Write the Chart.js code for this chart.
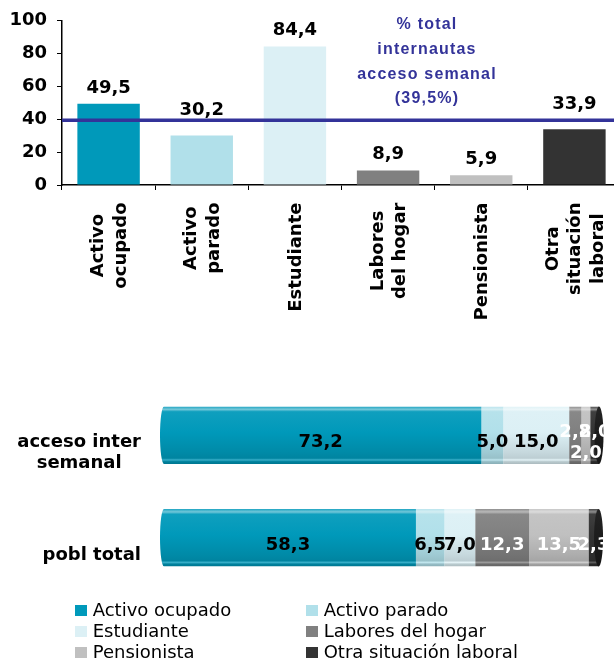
<!DOCTYPE html>
<html><head><meta charset="utf-8">
<script src="https://cdn.jsdelivr.net/npm/chart.js@4.4.0/dist/chart.umd.min.js"></script>
<style>
html,body{margin:0;padding:0;width:614px;height:661px;overflow:hidden;background:#fff;}
#top{position:absolute;left:0;top:0;width:622px;height:360px;}
#bot{position:absolute;left:0;top:380px;width:614px;height:220px;}
#legend{position:absolute;left:0;top:0;width:614px;height:661px;pointer-events:none;font-family:"DejaVu Sans",Verdana,sans-serif;font-size:18px;color:#000;}
.item{position:absolute;white-space:nowrap;line-height:21px;height:21px;}
.sw{position:absolute;width:12px;height:11px;}
</style></head><body>
<canvas id="top" width="622" height="360"></canvas>
<canvas id="bot" width="614" height="220"></canvas>
<div id="legend"></div>
<script>
// ---------- data ----------
const categories = ['Activo ocupado','Activo parado','Estudiante','Labores del hogar','Pensionista','Otra situación laboral'];
const xTickLabels = [['Activo','ocupado'],['Activo','parado'],['Estudiante'],['Labores','del hogar'],['Pensionista'],['Otra','situación','laboral']];
const yTickValues = [0,20,40,60,80,100];
const pctAccesoSemanal = [49.5,30.2,84.4,8.9,5.9,33.9];
const totalAccesoSemanal = 39.5;
const noteLines = ['% total','internautas','acceso semanal'];
const rowLabels = [['acceso inter','semanal'],['pobl total']];
const shareAccesoSemanal = [73.2,5.0,15.0,2.8,2.0,2.0];
const sharePoblTotal = [58.3,6.5,7.0,12.3,13.5,2.3];

// ---------- style ----------
const seriesColors = ['#0099BA','#B1E0EA','#DCF0F5','#808080','#C0C0C0','#333333'];
const labelInk = ['#000','#000','#000','#fff','#fff','#fff'];
const noteColor = '#333399';
const FONT = '"DejaVu Sans", Verdana, sans-serif';
const BOLD18 = 'bold 18px ' + FONT;
const BAR_PCT = 0.56;
const fmt = v => v.toFixed(1).replace('.', ',');

function hexToRgb(h){const n=parseInt(h.slice(1),16);return [(n>>16)&255,(n>>8)&255,n&255];}
function mix(h,f){const [r,g,b]=hexToRgb(h);const c=v=>f>=0?Math.round(v+(255-v)*f):Math.round(v*(1+f));return `rgb(${c(r)},${c(g)},${c(b)})`;}

// ---------- top chart ----------
const topPlugin = {
  id:'topDecor',
  afterDatasetsDraw(chart){
    const c=chart.ctx, ys=chart.scales.y, xs=chart.scales.x, a=chart.chartArea;
    const ly=ys.getPixelForValue(totalAccesoSemanal);
    c.save();
    c.strokeStyle=noteColor; c.lineWidth=3.5;
    c.beginPath(); c.moveTo(a.left,ly); c.lineTo(a.right,ly); c.stroke();
    // value labels
    c.font=BOLD18; c.fillStyle='#000'; c.textAlign='center'; c.textBaseline='alphabetic';
    chart.getDatasetMeta(0).data.forEach((el,i)=>{
      let b=el.y-11;
      if(b+1>ly-2 && b-14<ly+2) b=el.y-20.5;
      c.fillText(fmt(pctAccesoSemanal[i]), el.x, b);
    });
    // note text
    c.fillStyle=noteColor; c.font='bold 16px "Liberation Sans", Arial, sans-serif';
    try{c.letterSpacing='1.2px';}catch(e){}
    const lines=noteLines.concat(['(' + fmt(totalAccesoSemanal) + '%)']);
    lines.forEach((t,k)=>c.fillText(t, 427, 29+k*24.8));
    try{c.letterSpacing='0px';}catch(e){}
    c.restore();
  },
  afterDraw(chart){
    const c=chart.ctx, xs=chart.scales.x;
    const top=xs.top+17.5, LINE=22.5;
    c.save();
    c.font=BOLD18; c.fillStyle='#000'; c.textAlign='center'; c.textBaseline='middle';
    xTickLabels.forEach((lines,i)=>{
      const x=xs.getPixelForValue(i);
      const W=Math.max(...lines.map(l=>c.measureText(l).width));
      const n=lines.length;
      c.save(); c.translate(x,top); c.rotate(-Math.PI/2);
      lines.forEach((l,k)=>c.fillText(l,-W/2,(k-(n-1)/2)*LINE+1));
      c.restore();
    });
    c.restore();
  }
};

const topChart = new Chart(document.getElementById('top'), {
  type:'bar',
  data:{labels:categories, datasets:[{label:'% acceso semanal', data:pctAccesoSemanal, backgroundColor:seriesColors, borderWidth:0, barPercentage:0.67, categoryPercentage:1}]},
  options:{
    responsive:false, animation:false, devicePixelRatio:1,
    layout:{padding:{top:19,right:1,bottom:175,left:0}},
    plugins:{legend:{display:false}, tooltip:{enabled:false}},
    scales:{
      x:{
        grid:{display:true, drawOnChartArea:false, drawTicks:true, tickLength:5, color:'#000', offset:true},
        border:{display:true, color:'#000', width:1.5},
        ticks:{display:false},
        afterFit(s){s.height=0;}
      },
      y:{
        min:0, max:100,
        afterBuildTicks(s){s.ticks=yTickValues.map(v=>({value:v}));},
        ticks:{color:'#000', font:{family:FONT, size:18, weight:'bold'}, padding:10},
        grid:{drawOnChartArea:false, tickLength:5, color:'#000'},
        border:{display:true, color:'#000', width:1.5},
        afterFit(s){s.width=62;}
      }
    }
  },
  plugins:[topPlugin]
});

// ---------- bottom chart ----------
function rowStep(chart){const ys=chart.scales.y;return Math.abs(ys.getPixelForValue(1)-ys.getPixelForValue(0));}
function cylFill(ctx,i){
  const chart=ctx.chart, base=seriesColors[i];
  if(!chart.chartArea || !chart.scales.y || ctx.dataIndex===undefined) return base;
  const cy=chart.scales.y.getPixelForValue(ctx.dataIndex);
  const h=rowStep(chart)*BAR_PCT;
  const g=chart.ctx.createLinearGradient(0,cy-h/2,0,cy+h/2);
  g.addColorStop(0, mix(base,0.12));
  g.addColorStop(0.05, mix(base,0.45));
  g.addColorStop(0.09, mix(base,0.06));
  g.addColorStop(0.45, base);
  g.addColorStop(0.8, mix(base,-0.1));
  g.addColorStop(0.9, mix(base,-0.14));
  g.addColorStop(0.93, mix(base,0.22));
  g.addColorStop(0.96, mix(base,-0.16));
  g.addColorStop(1, mix(base,-0.22));
  return g;
}
const rowsData = [shareAccesoSemanal, sharePoblTotal];

const botPlugin = {
  id:'cyl',
  beforeDatasetsDraw(chart){
    const c=chart.ctx, xs=chart.scales.x, ys=chart.scales.y;
    const h=rowStep(chart)*BAR_PCT, x0=xs.getPixelForValue(0), rx=4;
    c.save(); c.beginPath();
    rowsData.forEach((r,ri)=>{
      const cy=ys.getPixelForValue(ri);
      c.rect(x0+rx, cy-h/2, 1000, h);
      c.moveTo(x0+2*rx, cy);
      c.ellipse(x0+rx, cy, rx, h/2, 0, 0, Math.PI*2);
    });
    c.clip();
  },
  afterDatasetsDraw(chart){
    const c=chart.ctx, xs=chart.scales.x, ys=chart.scales.y;
    c.restore();
    const h=rowStep(chart)*BAR_PCT;
    c.save();
    // right end caps
    rowsData.forEach((r,ri)=>{
      const cy=ys.getPixelForValue(ri);
      const total=r.reduce((s,v)=>s+v,0);
      const xe=xs.getPixelForValue(total);
      const last=seriesColors[r.length-1];
      const g=c.createLinearGradient(0,cy-h/2,0,cy+h/2);
      g.addColorStop(0, mix(last,-0.3)); g.addColorStop(0.5, mix(last,-0.45)); g.addColorStop(1, mix(last,-0.55));
      c.fillStyle=g; c.beginPath(); c.ellipse(xe, cy, 4.5, h/2, 0, 0, Math.PI*2); c.fill();
    });
    // segment labels
    c.font=BOLD18; c.textAlign='center'; c.textBaseline='alphabetic';
    rowsData.forEach((r,ri)=>{
      const cy=ys.getPixelForValue(ri);
      const els=chart.data.datasets.map((d,i)=>chart.getDatasetMeta(i).data[ri]);
      const widths=els.map(e=>Math.abs(e.x-e.base));
      const small=widths.map(w=>w<25);
      let runPos=0;
      els.forEach((e,i)=>{
        const inRun = small[i] && ((i>0&&small[i-1])||(i<els.length-1&&small[i+1]));
        let b=cy+12;
        if(inRun){ b = (runPos%2===0) ? cy+1.5 : cy+22.5; runPos++; } else runPos=0;
        c.fillStyle=labelInk[i];
        c.fillText(fmt(r[i]), (e.x+e.base)/2, b);
      });
    });
    c.restore();
  },
  afterDraw(chart){
    const c=chart.ctx, ys=chart.scales.y;
    c.save(); c.font=BOLD18; c.fillStyle='#000'; c.textAlign='center'; c.textBaseline='alphabetic';
    rowLabels.forEach((lines,ri)=>{
      const cy=ys.getPixelForValue(ri);
      const W=Math.max(...lines.map(l=>c.measureText(l).width));
      const n=lines.length, cx=141-W/2;
      lines.forEach((l,k)=>c.fillText(l, cx, cy+22+(k-(n-1)/2)*21));
    });
    c.restore();
  }
};

const botChart = new Chart(document.getElementById('bot'), {
  type:'bar',
  data:{
    labels:rowLabels.map(r=>r.join(' ')),
    datasets:categories.map((cat,i)=>({
      label:cat,
      data:rowsData.map(r=>r[i]),
      backgroundColor:ctx=>cylFill(ctx,i),
      borderWidth:0, barPercentage:BAR_PCT, categoryPercentage:1
    }))
  },
  options:{
    indexAxis:'y', responsive:false, animation:false, devicePixelRatio:1,
    layout:{padding:{left:160,right:15,top:4,bottom:11}},
    plugins:{legend:{display:false}, tooltip:{enabled:false}},
    scales:{
      x:{stacked:true, min:0, max:100, display:false},
      y:{stacked:true, display:false}
    }
  },
  plugins:[botPlugin]
});

// ---------- legend (built from the chart's datasets) ----------
const leg=document.getElementById('legend');
botChart.data.datasets.forEach((d,i)=>{
  const col=i%2, row=Math.floor(i/2);
  const left=[75,306][col], top=599.3+row*21;
  const sw=document.createElement('div'); sw.className='sw';
  sw.style.left=left+'px'; sw.style.top=(top+6)+'px'; sw.style.background=seriesColors[i];
  const tx=document.createElement('div'); tx.className='item';
  tx.style.left=(left+17.7)+'px'; tx.style.top=top+'px'; tx.textContent=d.label;
  leg.appendChild(sw); leg.appendChild(tx);
});
</script></body></html>
